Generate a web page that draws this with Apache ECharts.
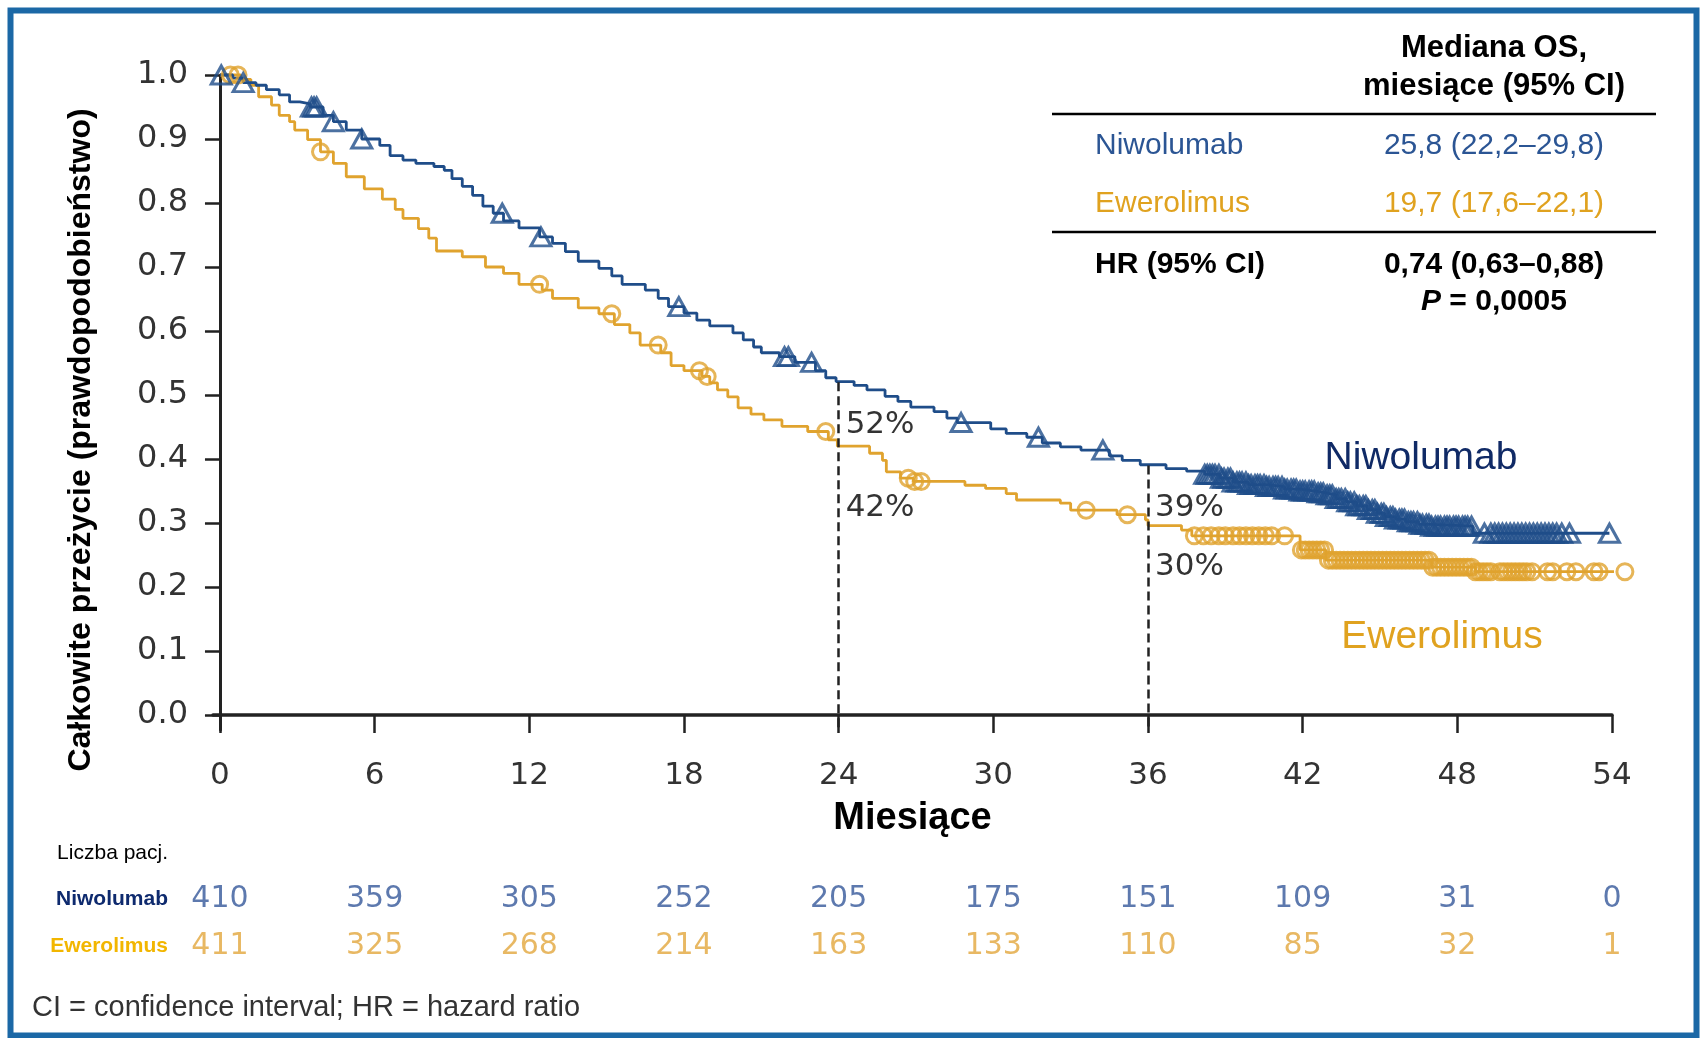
<!DOCTYPE html>
<html lang="pl">
<head>
<meta charset="utf-8">
<script src="https://cdn.jsdelivr.net/npm/echarts@6/dist/echarts.min.js"></script>
</head>
<body style="margin:0;background:#fff">
<div id="chart" style="width:1700px;height:1038px"></div>
<script>
// axis ticks
var months = [0, 6, 12, 18, 24, 30, 36, 42, 48, 54];
var survTicks = [0, 0.1, 0.2, 0.3, 0.4, 0.5, 0.6, 0.7, 0.8, 0.9, 1.0];

// number at risk
var riskRows = ['Ewerolimus', 'Niwolumab'];
var riskNivo = [410, 359, 305, 252, 205, 175, 151, 109, 31, 0];
var riskEvero = [411, 325, 268, 214, 163, 133, 110, 85, 32, 1];

// Kaplan-Meier steps [month, survival]
var kmNivo = [[0,1.0],[0.5,0.995],[0.9,0.988],[1.4,0.984],[1.8,0.977],[2.3,0.969],[2.7,0.958],[3.1,0.955],
  [3.5,0.95],[4.0,0.937],[4.4,0.927],[4.9,0.914],[5.5,0.9],[6.2,0.89],[6.6,0.874],[7.1,0.867],[7.6,0.862],
  [8.3,0.857],[8.7,0.851],[9.0,0.838],[9.4,0.826],[9.8,0.812],[10.2,0.795],[10.6,0.784],[11.0,0.772],[11.6,0.761],
  [12.4,0.747],[12.9,0.737],[13.4,0.724],[13.9,0.709],[14.7,0.698],[15.2,0.686],[15.6,0.673],[16.5,0.664],
  [17.0,0.651],[17.4,0.638],[18.0,0.628],[18.5,0.617],[19.0,0.608],[19.9,0.597],[20.3,0.586],[20.7,0.575],
  [21.0,0.566],[21.7,0.56],[22.3,0.551],[23.1,0.538],[23.5,0.527],[23.9,0.521],[24.6,0.515],[25.1,0.508],
  [25.8,0.498],[26.3,0.49],[26.8,0.481],[27.7,0.474],[28.2,0.464],[28.6,0.457],[29.9,0.447],[30.5,0.44],
  [31.3,0.434],[31.9,0.425],[32.6,0.419],[33.4,0.414],[34.5,0.405],[35.0,0.398],[35.7,0.391],[36.7,0.385],
  [37.5,0.381],[38.2,0.376],[38.8,0.37],[39.3,0.364],[39.9,0.36],[40.6,0.357],[41.3,0.353],[41.9,0.35],
  [42.5,0.347],[42.9,0.344],[43.3,0.338],[43.7,0.333],[44.1,0.327],[44.5,0.321],[44.9,0.315],[45.2,0.31],
  [45.6,0.306],[46.0,0.302],[46.5,0.298],[47.0,0.295],[48.6,0.284],[53.9,0.284]];
var kmEvero = [[0,1.0],[0.8,0.993],[1.2,0.984],[1.5,0.966],[2.0,0.953],[2.3,0.937],[2.7,0.927],[2.9,0.914],
  [3.4,0.899],[3.9,0.88],[4.4,0.862],[4.9,0.841],[5.6,0.822],[6.3,0.806],[6.8,0.79],[7.1,0.776],[7.7,0.76],
  [8.1,0.745],[8.4,0.725],[9.4,0.716],[10.3,0.7],[11.0,0.69],[11.6,0.673],[12.5,0.664],[12.9,0.651],
  [13.9,0.636],[14.7,0.627],[15.3,0.61],[15.9,0.597],[16.3,0.578],[17.1,0.566],[17.5,0.546],[18.0,0.538],
  [18.7,0.529],[19.0,0.519],[19.3,0.508],[19.7,0.497],[20.1,0.48],[20.6,0.47],[21.1,0.461],[21.8,0.451],
  [22.8,0.443],[23.6,0.43],[23.95,0.42],[25.2,0.409],[25.7,0.398],[25.85,0.38],[26.4,0.37],[26.9,0.365],
  [28.9,0.359],[29.7,0.354],[30.5,0.346],[30.9,0.336],[32.6,0.331],[33.0,0.32],[34.8,0.313],[35.9,0.305],
  [36.0,0.296],[37.3,0.289],[37.7,0.28],[41.9,0.258],[42.9,0.242],[47.0,0.231],[48.7,0.224],[54.5,0.224]];

// censoring times (months)
var censNivo = [0.05, 0.9, 3.55, 3.65, 3.75, 4.4, 5.5, 10.95, 12.45, 17.8, 21.9, 22.05, 22.95, 28.75, 31.75, 34.25,
  38.2, 38.3, 38.4, 38.5, 38.6, 38.75, 38.85, 38.95, 39.1, 39.2, 39.3, 39.45, 39.55, 39.65, 39.8, 39.9, 40.0,
  40.15, 40.25, 40.35, 40.5, 40.6, 40.7, 40.85, 40.95, 41.05, 41.2, 41.3, 41.4, 41.55, 41.65, 41.75, 41.9, 42.0,
  42.1, 42.25, 42.35, 42.45, 42.6, 42.7, 42.8, 42.95, 43.05, 43.15, 43.3, 43.4, 43.5, 43.65, 43.75, 43.85, 44.0,
  44.1, 44.2, 44.35, 44.45, 44.55, 44.7, 44.8, 44.9, 45.05, 45.15, 45.25, 45.4, 45.5, 45.6, 45.75, 45.85, 45.95,
  46.1, 46.2, 46.3, 46.45, 46.55, 46.65, 46.8, 46.9, 47.0, 47.15, 47.25, 47.35, 47.5, 47.6, 47.7, 47.85, 47.95,
  48.05, 48.2, 48.3, 48.4, 48.55, 49.05, 49.3, 49.45, 49.6, 49.75, 49.9, 50.05, 50.2, 50.35, 50.5, 50.65, 50.8,
  50.95, 51.1, 51.25, 51.4, 51.55, 51.7, 51.85, 52.05, 52.35, 53.9];
var censEvero = [0.4, 0.7, 3.9, 12.4, 15.2, 17.0, 18.6, 18.9, 23.5, 26.7, 26.95, 27.2, 33.6, 35.2, 37.8, 38.15,
  38.45, 38.75, 39.0, 39.3, 39.55, 39.8, 40.05, 40.3, 40.55, 40.8, 41.3, 41.95, 42.1, 42.25, 42.4, 42.55, 42.7,
  42.85, 43.0, 43.15, 43.3, 43.45, 43.6, 43.75, 43.9, 44.05, 44.2, 44.35, 44.5, 44.65, 44.8, 44.95, 45.1, 45.25,
  45.4, 45.55, 45.7, 45.85, 46.0, 46.15, 46.3, 46.45, 46.6, 46.75, 46.9, 47.05, 47.2, 47.35, 47.5, 47.65, 47.8,
  47.95, 48.1, 48.25, 48.4, 48.55, 48.7, 48.85, 49.0, 49.15, 49.3, 49.65, 49.8, 49.95, 50.1, 50.25, 50.4, 50.55,
  50.7, 50.9, 51.5, 51.7, 52.25, 52.6, 53.3, 53.5, 54.5];

// landmark survival
var landmarkMonths = [24, 36];
var landmarkNivo = [0.52, 0.39];
var landmarkEvero = [0.42, 0.30];

var SANS = '"Liberation Sans", Arial, sans-serif';
var NUM = '"DejaVu Sans", sans-serif';
var nivoColor = '#1f4d89';
var everoColor = '#e0a32e';
var xMin = -0.27, yMin = -0.0234;

function survAt(curve, t) {
  var s = curve[0][1];
  for (var i = 0; i < curve.length; i++) {
    if (curve[i][0] <= t) s = curve[i][1];
  }
  return s;
}
var censNivoPts = censNivo.map(function (t) { return [t, survAt(kmNivo, t)]; });
var censEveroPts = censEvero.map(function (t) { return [t, survAt(kmEvero, t)]; });

var riskData = [];
months.forEach(function (m, i) {
  riskData.push({value: [m, 'Niwolumab', riskNivo[i]], label: {color: '#34589a'}});
  riskData.push({value: [m, 'Ewerolimus', riskEvero[i]], label: {color: '#e2a63c'}});
});

var pctLabel = function (v) { return Math.round(v * 100) + '%'; };
var markPts = [
  {coord: [landmarkMonths[0], landmarkNivo[0]], label: {formatter: pctLabel(landmarkNivo[0]), offset: [0, 43]}},
  {coord: [landmarkMonths[0], landmarkEvero[0]], label: {formatter: pctLabel(landmarkEvero[0]), offset: [0, 62]}},
  {coord: [landmarkMonths[1], landmarkNivo[1]], label: {formatter: pctLabel(landmarkNivo[1]), offset: [0, 43]}},
  {coord: [landmarkMonths[1], landmarkEvero[1]], label: {formatter: pctLabel(landmarkEvero[1]), offset: [0, 44]}}
];
var markLines = landmarkMonths.map(function (m, i) {
  return [{coord: [m, landmarkNivo[i]]}, {coord: [m, yMin]}];
});

var chart = echarts.init(document.getElementById('chart'));
var option = {
  backgroundColor: '#fff',
  animation: false,
  grid: [
    {left: 213, right: 88, top: 75, bottom: 308},
    {left: 213, right: 88, top: 876, height: 93}
  ],
  xAxis: [
    {
      type: 'value', gridIndex: 0, min: xMin, max: 54,
      name: 'Miesiące', nameLocation: 'middle', nameGap: 70,
      nameTextStyle: {fontFamily: SANS, fontSize: 38, fontWeight: 'bold', color: '#000'},
      axisLine: {lineStyle: {color: '#222', width: 3.5}},
      axisTick: {customValues: months, length: 18, lineStyle: {color: '#222', width: 2.5}},
      axisLabel: {customValues: months, margin: 30, fontFamily: NUM, fontSize: 31, color: '#333'},
      splitLine: {show: false}
    },
    {type: 'value', gridIndex: 1, min: xMin, max: 54, show: false}
  ],
  yAxis: [
    {
      type: 'value', gridIndex: 0, min: yMin, max: 1.0,
      axisLine: {show: true, lineStyle: {color: '#222', width: 3}},
      axisTick: {show: true, customValues: survTicks, length: 15, lineStyle: {color: '#222', width: 2.5}},
      axisLabel: {customValues: survTicks, margin: 25, fontFamily: NUM, fontSize: 32, color: '#333',
        formatter: function (v) { return v.toFixed(1); }},
      splitLine: {show: false}
    },
    {
      type: 'category', gridIndex: 1, data: riskRows,
      axisLine: {show: false}, axisTick: {show: false},
      axisLabel: {
        margin: 45, fontFamily: SANS, fontSize: 21, fontWeight: 'bold',
        formatter: function (v) { return v === 'Niwolumab' ? '{n|' + v + '}' : '{e|' + v + '}'; },
        rich: {
          n: {color: '#0e2a6e', fontFamily: SANS, fontSize: 21, fontWeight: 'bold'},
          e: {color: '#f2b600', fontFamily: SANS, fontSize: 21, fontWeight: 'bold'}
        }
      }
    }
  ],
  series: [
    {
      name: 'Ewerolimus', type: 'line', step: 'end', data: kmEvero, showSymbol: false, clip: false,
      lineStyle: {color: everoColor, width: 2.8}, z: 2
    },
    {
      name: 'Niwolumab', type: 'line', step: 'end', data: kmNivo, showSymbol: false, clip: false,
      lineStyle: {color: nivoColor, width: 2.8}, z: 2,
      markLine: {
        silent: true, symbol: 'none', label: {show: false},
        lineStyle: {color: '#222', width: 2.5, type: [9, 5]},
        data: markLines
      },
      markPoint: {
        symbol: 'circle', symbolSize: 0, silent: true,
        label: {position: 'right', distance: 7, fontFamily: NUM, fontSize: 31, color: '#333'},
        data: markPts
      }
    },
    {
      type: 'scatter', data: censEveroPts, symbol: 'circle', symbolSize: 16, clip: false,
      itemStyle: {color: 'rgba(0,0,0,0)', borderColor: everoColor, borderWidth: 3}, z: 3
    },
    {
      type: 'scatter', data: censNivoPts, symbol: 'triangle', symbolSize: [20, 18], clip: false,
      itemStyle: {color: 'rgba(0,0,0,0)', borderColor: nivoColor, borderWidth: 3}, z: 4
    },
    {
      type: 'scatter', xAxisIndex: 1, yAxisIndex: 1, data: riskData, symbolSize: 1,
      itemStyle: {color: 'rgba(0,0,0,0)'},
      label: {show: true, position: 'inside', fontFamily: NUM, fontSize: 30,
        formatter: function (p) { return p.value[2]; }}
    }
  ],
  graphic: [
    {type: 'rect', shape: {x: 10.5, y: 10.5, width: 1686, height: 1025},
      style: {fill: null, stroke: '#1b68a6', lineWidth: 6}, silent: true},
    {type: 'text', x: 81, y: 440, rotation: Math.PI / 2,
      style: {text: 'Całkowite przeżycie (prawdopodobieństwo)', font: 'bold 32px ' + SANS, fill: '#000',
        align: 'center', verticalAlign: 'middle'}},
    // curve labels
    {type: 'text', x: 1421, y: 458, style: {text: 'Niwolumab', font: '39px ' + SANS, fill: '#102a66',
      align: 'center', verticalAlign: 'middle'}},
    {type: 'text', x: 1442, y: 637, style: {text: 'Ewerolimus', font: '39px ' + SANS, fill: '#e0a21f',
      align: 'center', verticalAlign: 'middle'}},
    // summary table
    {type: 'text', x: 1494, y: 48, style: {text: 'Mediana OS,', font: 'bold 31px ' + SANS, fill: '#000',
      align: 'center', verticalAlign: 'middle'}},
    {type: 'text', x: 1494, y: 86, style: {text: 'miesiące (95% CI)', font: 'bold 31px ' + SANS, fill: '#000',
      align: 'center', verticalAlign: 'middle'}},
    {type: 'line', shape: {x1: 1052, y1: 114, x2: 1656, y2: 114}, style: {stroke: '#000', lineWidth: 2.5}},
    {type: 'text', x: 1095, y: 146, style: {text: 'Niwolumab', font: '30px ' + SANS, fill: '#2b5594',
      align: 'left', verticalAlign: 'middle'}},
    {type: 'text', x: 1494, y: 146, style: {text: '25,8 (22,2–29,8)', font: '30px ' + SANS, fill: '#2b5594',
      align: 'center', verticalAlign: 'middle'}},
    {type: 'text', x: 1095, y: 204, style: {text: 'Ewerolimus', font: '30px ' + SANS, fill: '#e0a21f',
      align: 'left', verticalAlign: 'middle'}},
    {type: 'text', x: 1494, y: 204, style: {text: '19,7 (17,6–22,1)', font: '30px ' + SANS, fill: '#e0a21f',
      align: 'center', verticalAlign: 'middle'}},
    {type: 'line', shape: {x1: 1052, y1: 232, x2: 1656, y2: 232}, style: {stroke: '#000', lineWidth: 2.5}},
    {type: 'text', x: 1095, y: 265, style: {text: 'HR (95% CI)', font: 'bold 30px ' + SANS, fill: '#000',
      align: 'left', verticalAlign: 'middle'}},
    {type: 'text', x: 1494, y: 265, style: {text: '0,74 (0,63–0,88)', font: 'bold 30px ' + SANS, fill: '#000',
      align: 'center', verticalAlign: 'middle'}},
    {type: 'text', x: 1494, y: 302, style: {text: '{i|P}{b| = 0,0005}', align: 'center', verticalAlign: 'middle',
      rich: {
        i: {fontFamily: SANS, fontSize: 30, fontWeight: 'bold', fontStyle: 'italic', fill: '#000'},
        b: {fontFamily: SANS, fontSize: 30, fontWeight: 'bold', fill: '#000'}
      }}},
    // risk table heading and footnote
    {type: 'text', x: 168, y: 853, style: {text: 'Liczba pacj.', font: '21px ' + SANS, fill: '#000',
      align: 'right', verticalAlign: 'middle'}},
    {type: 'text', x: 32, y: 1008, style: {text: 'CI = confidence interval; HR = hazard ratio', font: '29px ' + SANS,
      fill: '#333', align: 'left', verticalAlign: 'middle'}}
  ]
};
chart.setOption(option);
</script>
</body>
</html>
